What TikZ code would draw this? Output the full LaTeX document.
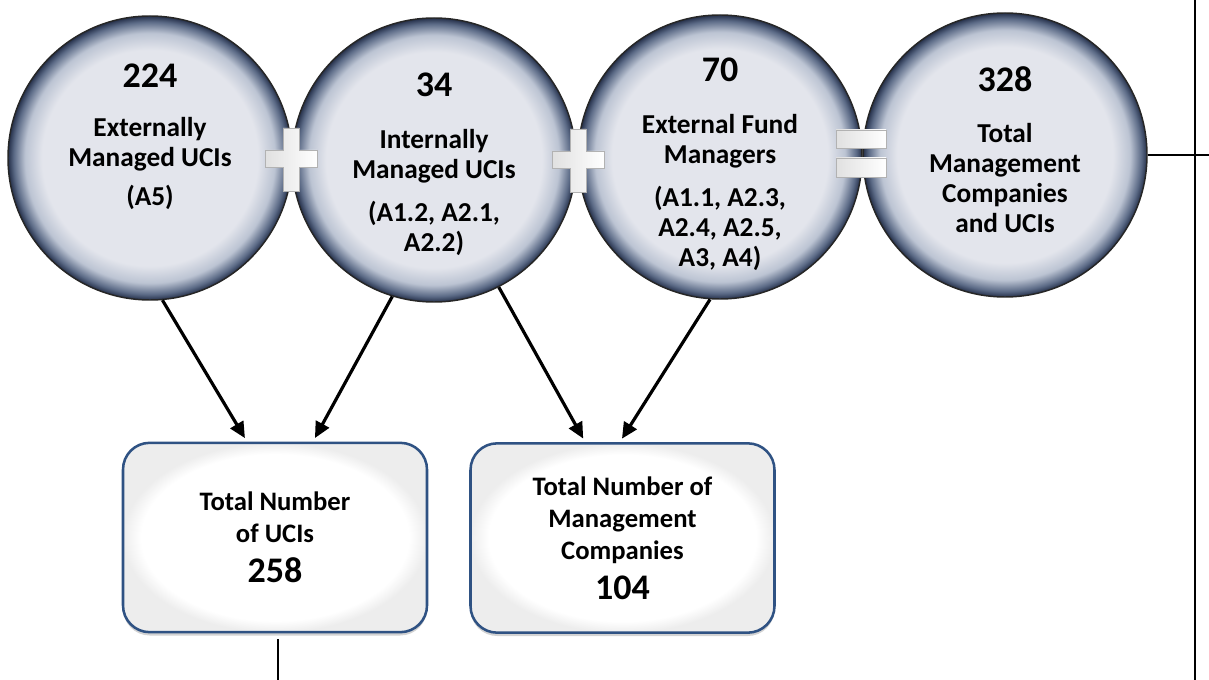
\documentclass[tikz,border=0pt]{standalone}
\usepackage{fontspec}
\setmainfont{Carlito}
\usetikzlibrary{arrows.meta, calc, shadows}

\definecolor{bubblein}{HTML}{E3E5EC}
\definecolor{bubblemid}{HTML}{BCC4D3}
\definecolor{bubblerim}{HTML}{5B6A86}
\definecolor{bubbleedge}{HTML}{25304A}
\definecolor{boxline}{HTML}{2F5283}
\pgfdeclareradialshading{bubbleshade}{\pgfpoint{0bp}{0bp}}{%
  color(0bp)=(bubblein); color(19bp)=(bubblein); color(22bp)=(bubblemid);
  color(24bp)=(bubblerim); color(25bp)=(bubbleedge); color(50bp)=(bubbleedge)}
\pgfdeclareradialshading{boxshade}{\pgfpoint{0bp}{0bp}}{%
  color(0bp)=(white); color(22bp)=(white); color(25bp)=(black!7); color(50bp)=(black!7)}

\begin{document}
\begin{tikzpicture}[x=0.75pt, y=-0.75pt,
    bubble/.style={circle, minimum size=213pt, inner sep=0pt, shading=bubbleshade, draw=black!85, line width=1.1pt},
    numstyle/.style={anchor=base, font=\bfseries\fontsize{27}{32}\selectfont},
    labelstyle/.style={anchor=base, align=center, font=\bfseries\fontsize{20.5}{22.5}\selectfont},
    totalbox/.style={rounded corners=20pt, minimum width=228pt, minimum height=142pt, shading=boxshade,
      draw=boxline, line width=1.9pt, align=center, font=\bfseries\fontsize{20}{24}\selectfont,
      drop shadow={opacity=0.35, shadow xshift=0pt, shadow yshift=-2.5pt}},
    signstyle/.style={left color=black!12, right color=white, draw=black!30, line width=0.5pt},
    arrowstyle/.style={-{Triangle[length=12pt, width=11pt]}, line width=2.4pt, shorten >=3pt},
    linestyle/.style={line width=2.2pt}]
  \useasboundingbox (0,0) rectangle (1209,680);

  % the four circles
  \node[bubble] (c1) at (150,158) {};
  \node[bubble] (c2) at (434,160) {};
  \node[bubble] (c3) at (720,157) {};
  \node[bubble] (c4) at (1005,155) {};

  % numbers sit on their own baseline, labels on the baseline of their last line
  \node[numstyle] (n1) at (150,88) {224};
  \node[labelstyle] (t1) at (150,206) {Externally\\Managed UCIs\\[7pt](A5)};
  \node[numstyle] (n2) at (434,97) {34};
  \node[labelstyle] (t2) at (434,252) {Internally\\Managed UCIs\\[10pt](A1.2, A2.1,\\A2.2)};
  \node[numstyle] (n3) at (720,82) {70};
  \node[labelstyle] (t3) at (720,267) {External Fund\\Managers\\[10pt](A1.1, A2.3,\\A2.4, A2.5,\\A3, A4)};
  \node[numstyle] (n4) at (1005,92) {328};
  \node[labelstyle] (t4) at (1005,233) {Total\\Management\\Companies\\and UCIs};

  % plus and equals signs
  \coordinate (s1) at (291,159);
  \coordinate (s2) at (578,160);
  \coordinate (s3) at (861,153);
  \foreach \s in {s1,s2}
    \draw[signstyle, shift={(\s)}] (-8,-31) -- (8,-31) -- (8,-9) -- (26,-9) -- (26,8) -- (8,8)
      -- (8,32) -- (-8,32) -- (-8,8) -- (-26,8) -- (-26,-9) -- (-8,-9) -- cycle;
  \draw[signstyle, shift={(s3)}] (-25,-23) rectangle (25,-5);
  \draw[signstyle, shift={(s3)}] (-25,5) rectangle (25,24);

  % totals
  \node[totalbox] (b1) at (275,537.5) {Total Number\\of UCIs\\[6pt]{\fontsize{27}{32}\selectfont 258}};
  \node[totalbox] (b2) at (622.5,538) {Total Number of\\Management\\Companies\\[6pt]{\fontsize{27}{32}\selectfont 104}};

  \draw[arrowstyle] (c1.-85) -- ([xshift=-21pt]b1.north);
  \draw[arrowstyle] (c2.-107) -- ([xshift=28.5pt]b1.north);
  \draw[arrowstyle] (c2.-63) -- ([xshift=-28pt]b2.north);
  \draw[arrowstyle] (c3.-94) -- ([xshift=-2pt]b2.north);

  % outgoing lines
  \coordinate (rtop) at (1195,0);
  \coordinate (rbot) at (1195,680);
  \coordinate (rend) at (1209,155);
  \coordinate (bend) at (278,680);
  \draw[linestyle] (rtop) -- (rbot);
  \draw[linestyle] (c4.east) -- (rend);
  \draw[linestyle] ([xshift=2.25pt, yshift=-4.5pt]b1.south) -- (bend);
\end{tikzpicture}
\end{document}
